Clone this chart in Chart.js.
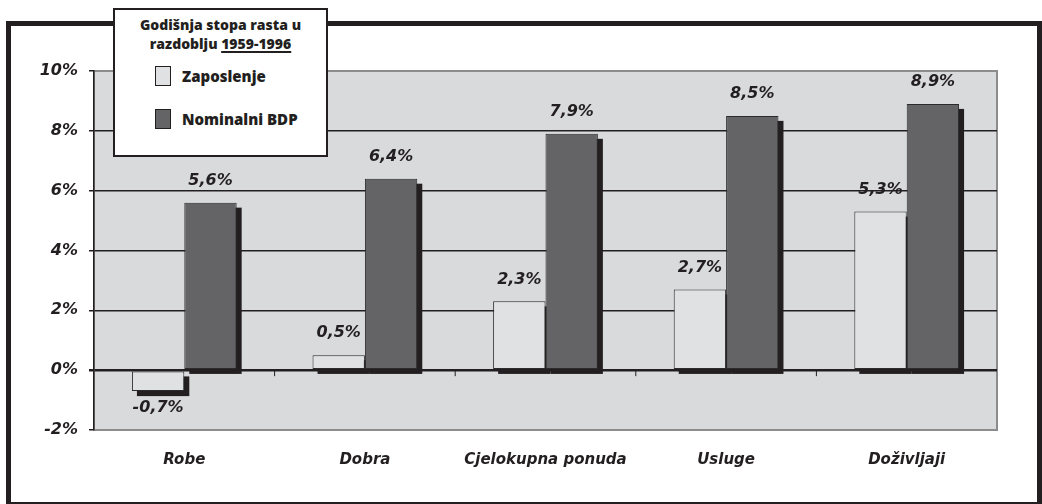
<!DOCTYPE html>
<html>
<head>
<meta charset="utf-8">
<script src="https://cdn.jsdelivr.net/npm/chart.js@4"></script>
<style>
    body { margin: 0; background: #ffffff; }
    .wrap { position: relative; width: 1042px; height: 504px; overflow: hidden; }
    .frame { position: absolute; left: 6px; top: 21px; width: 1036px; height: 486px; border: 5px solid #231f20; box-sizing: border-box; background: #ffffff; }
    #myChart { position: absolute; left: 0; top: 0; }
    .legend-box { position: absolute; left: 113px; top: 8px; width: 215px; height: 149px; box-sizing: border-box; border: 2px solid #231f20; background: #ffffff; font-family: "Open Sans", sans-serif; font-weight: 800; color: #231f20; }
    .legend-title { position: absolute; left: 0; top: 5px; width: 100%; text-align: center; font-size: 14px; line-height: 19px; }
    .legend-title u { text-decoration-thickness: 1.5px; text-underline-offset: 2px; }
    .legend-item { position: absolute; left: 40px; height: 20px; font-size: 15px; line-height: 20px; }
    .legend-item .swatch { position: absolute; left: 0; top: 0; width: 16px; height: 20px; box-sizing: border-box; border: 1.5px solid #231f20; }
    .legend-item .text { position: absolute; left: 27px; top: 0; white-space: nowrap; }
</style>
</head>
<body>
<div class="wrap">
    <div class="frame"></div>
    <canvas id="myChart" width="1042" height="504"></canvas>
    <div class="legend-box">
        <div class="legend-title">Godišnja stopa rasta u<br>razdoblju <u>1959-1996</u></div>
        <div class="legend-items"></div>
    </div>
</div>
<script>
const categories = ["Robe", "Dobra", "Cjelokupna ponuda", "Usluge", "Doživljaji"];
const seriesNames = ["Zaposlenje", "Nominalni BDP"];
const zaposlenje = [-0.7, 0.5, 2.3, 2.7, 5.3];
const nominalniBDP = [5.6, 6.4, 7.9, 8.5, 8.9];
const yTicks = [-2, 0, 2, 4, 6, 8, 10];
const seriesColors = ["#e0e1e3", "#646466"];

const fmt = (v) => v.toFixed(1).replace(".", ",") + "%";

// legend box is plain html so the underline works
const legendItems = document.querySelector(".legend-items");
seriesNames.forEach((name, i) => {
    const item = document.createElement("div");
    item.className = "legend-item";
    item.style.top = (56 + i * 43) + "px";
    item.innerHTML = '<span class="swatch" style="background:' + seriesColors[i] + '"></span><span class="text">' + name + "</span>";
    legendItems.appendChild(item);
});

// grey plot area + little category ticks under the zero line
const plotArea = {
    id: "plotArea",
    beforeDraw: (chart) => {
        const { ctx, chartArea } = chart;
        ctx.save();
        ctx.fillStyle = "#d9dadc";
        ctx.fillRect(chartArea.left, chartArea.top, chartArea.right - chartArea.left, chartArea.bottom - chartArea.top);
        ctx.strokeStyle = "#8c8c8c";
        ctx.lineWidth = 2;
        ctx.strokeRect(chartArea.left, chartArea.top, chartArea.right - chartArea.left, chartArea.bottom - chartArea.top);
        ctx.restore();
    },
    beforeDatasetsDraw: (chart) => {
        const { ctx } = chart;
        const xs = chart.scales.x;
        const y0 = chart.scales.y.getPixelForValue(0);
        ctx.save();
        ctx.strokeStyle = "#231f20";
        ctx.lineWidth = 1;
        for (let i = 1; i < categories.length; i++) {
            const bx = (xs.getPixelForValue(i) + xs.getPixelForValue(i - 1)) / 2;
            ctx.beginPath();
            ctx.moveTo(bx, y0);
            ctx.lineTo(bx, y0 + 6);
            ctx.stroke();
        }
        // hard black drop shadows behind the bars
        ctx.fillStyle = "#231f20";
        chart.data.datasets.forEach((ds, di) => {
            chart.getDatasetMeta(di).data.forEach((bar) => {
                const top = Math.min(bar.y, bar.base);
                const h = Math.abs(bar.base - bar.y);
                ctx.fillRect(bar.x - bar.width / 2 + 5, top + 5, bar.width, h);
            });
        });
        ctx.restore();
    },
    afterDatasetsDraw: (chart) => {
        const { ctx } = chart;
        ctx.save();
        ctx.font = "italic bold 16px 'DejaVu Sans'";
        ctx.fillStyle = "#231f20";
        ctx.textAlign = "center";
        ctx.textBaseline = "middle";
        chart.data.datasets.forEach((ds, di) => {
            chart.getDatasetMeta(di).data.forEach((bar, i) => {
                const v = ds.data[i];
                const ty = v >= 0 ? bar.y - 22 : bar.y + 17;
                ctx.fillText(fmt(v), bar.x, ty);
            });
        });
        ctx.restore();
    }
};

const ctx = document.getElementById("myChart").getContext("2d");
const myChart = new Chart(ctx, {
    type: "bar",
    data: {
        labels: categories,
        datasets: [
            {
                label: seriesNames[0],
                data: zaposlenje,
                backgroundColor: seriesColors[0],
                borderColor: "#2b2b2b",
                borderWidth: 1,
                borderSkipped: false,
            },
            {
                label: seriesNames[1],
                data: nominalniBDP,
                backgroundColor: seriesColors[1],
                borderColor: "#2b2b2b",
                borderWidth: 1,
                borderSkipped: false,
            },
        ],
    },
    options: {
        responsive: false,
        animation: false,
        categoryPercentage: 0.58,
        barPercentage: 1.0,
        layout: { padding: { left: 0, top: 71, right: 45, bottom: 0 } },
        plugins: {
            legend: { display: false },
            tooltip: { enabled: false },
        },
        scales: {
            x: {
                grid: { display: false, drawTicks: false },
                border: { display: false },
                ticks: {
                    padding: 21,
                    color: "#231f20",
                    font: { family: "DejaVu Sans", size: 15, weight: "bold", style: "italic" },
                },
                afterFit: (scale) => { scale.height = 74; },
            },
            y: {
                min: -2,
                max: 10,
                afterBuildTicks: (scale) => { scale.ticks = yTicks.map((v) => ({ value: v })); },
                grid: {
                    color: (c) => (c.tick && (c.tick.value === -2 || c.tick.value === 10) ? "#8c8c8c" : "#231f20"),
                    lineWidth: (c) => (c.tick && c.tick.value === 0 ? 2.5 : 1.5),
                    tickColor: "#231f20",
                    tickLength: 5,
                },
                border: { color: "#231f20", width: 1.5 },
                ticks: {
                    padding: 11,
                    color: "#231f20",
                    font: { family: "DejaVu Sans", size: 16, weight: "bold", style: "italic" },
                    callback: (v) => v + "%",
                },
                afterFit: (scale) => { scale.width = 94; },
            },
        },
    },
    plugins: [plotArea],
});
</script>
</body>
</html>
